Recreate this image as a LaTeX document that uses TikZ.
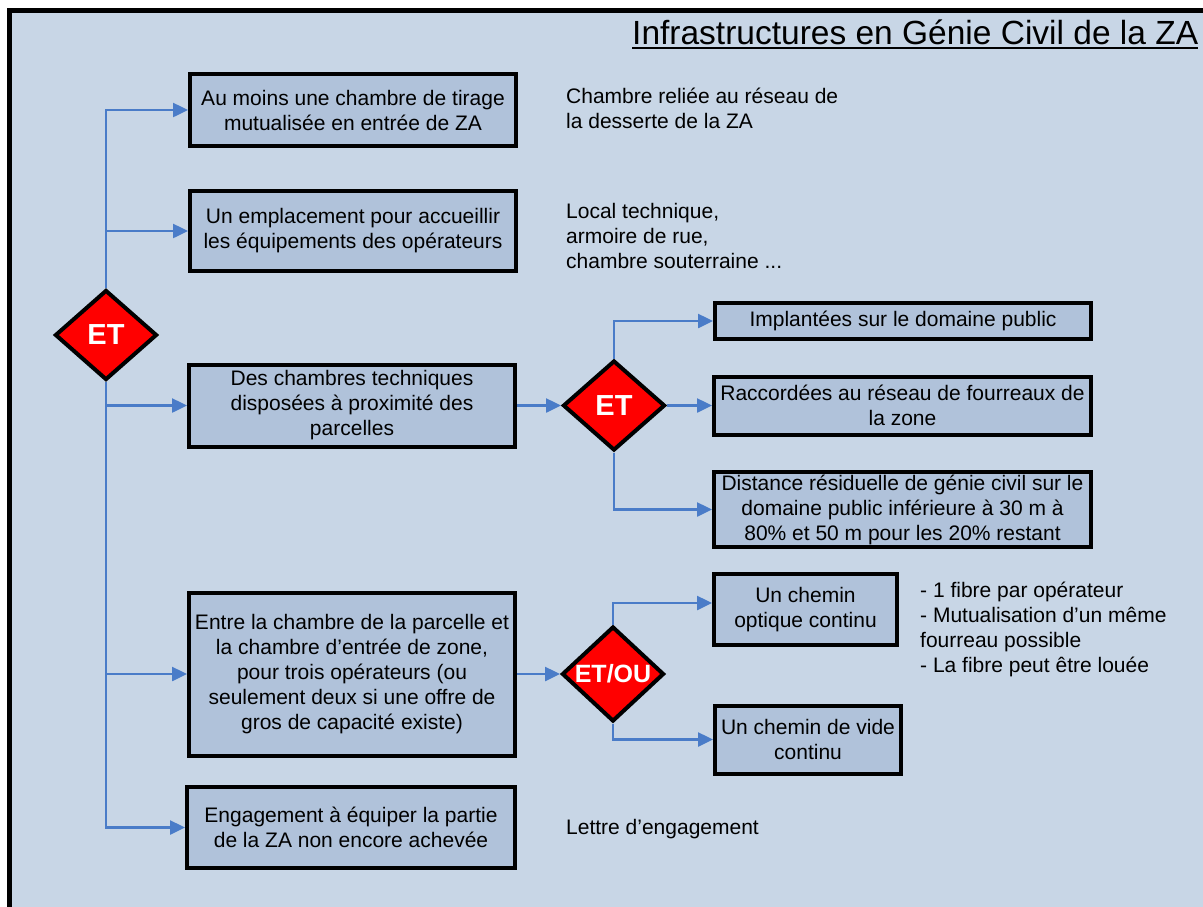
\documentclass[tikz,border=0pt]{standalone}
\usepackage{fontspec}
\setmainfont{Liberation Sans}
\usetikzlibrary{shapes.geometric,arrows.meta}
\definecolor{bgblue}{HTML}{C8D6E6}
\definecolor{boxfill}{HTML}{B0C2DA}
\definecolor{linkblue}{HTML}{4A7CC8}
\begin{document}
\begin{tikzpicture}[x=1pt,y=-1pt,
  bodyfont/.style={font=\fontsize{21}{25}\selectfont},
  stepbox/.style={draw=black,line width=4pt,fill=boxfill,align=center,inner sep=1pt,bodyfont},
  gate/.style={shape=diamond,draw=black,line width=4pt,fill=red,text=white,inner sep=0pt,minimum width=102pt,minimum height=90pt,font=\bfseries\fontsize{29}{29}\selectfont},
  note/.style={align=left,anchor=north west,inner sep=0pt,bodyfont},
  link/.style={draw=linkblue,line width=2.5pt,-{Triangle[length=15pt,width=14pt]}}
]
\useasboundingbox (0,0) rectangle (1203,906);
\fill[white] (0,0) rectangle (1203,906);
\filldraw[fill=bgblue,draw=black,line width=4.5pt] (9.5,10.5) rectangle (1220,925);

% title
\node[anchor=base west,inner sep=0pt,font=\fontsize{33.5}{33.5}\selectfont] (title) at (632,44) {Infrastructures en Génie Civil de la ZA};
\draw[line width=2.5pt] ([yshift=-4pt]title.base west) -- ([yshift=-4pt]title.base east);

% left column boxes
\node[stepbox,minimum width=326pt,minimum height=72pt] (b1) at (353,110) {Au moins une chambre de tirage\\mutualisée en entrée de ZA};
\node[stepbox,minimum width=326pt,minimum height=80pt] (b2) at (353,231) {Un emplacement pour accueillir\\les équipements des opérateurs};
\node[stepbox,minimum width=326pt,minimum height=82pt] (b3) at (352,405.5) {Des chambres techniques\\disposées à proximité des\\parcelles};
\node[stepbox,minimum width=326pt,minimum height=163pt] (b4) at (352,674) {Entre la chambre de la parcelle et\\la chambre d’entrée de zone,\\pour trois opérateurs (ou\\seulement deux si une offre de\\gros de capacité existe)};
\node[stepbox,minimum width=328pt,minimum height=81pt] (b5) at (351,827.5) {Engagement à équiper la partie\\de la ZA non encore achevée};

% right boxes
\node[stepbox,minimum width=376pt,minimum height=36pt] (r1) at (903,321) {Implantées sur le domaine public};
\node[stepbox,minimum width=377pt,minimum height=58pt] (r2) at (902.5,405.5) {Raccordées au réseau de fourreaux de\\la zone};
\node[stepbox,minimum width=377pt,minimum height=75pt] (r3) at (902.5,509.5) {Distance résiduelle de génie civil sur le\\domaine public inférieure à 30 m à\\80\% et 50 m pour les 20\% restant};
\node[stepbox,minimum width=183pt,minimum height=71pt] (r4) at (805.5,609.5) {Un chemin\\optique continu};
\node[stepbox,minimum width=186pt,minimum height=68pt] (r5) at (808,739.5) {Un chemin de vide\\continu};

% gates
\node[gate] (d1) at (106,335) {ET};
\node[gate] (d2) at (614,405.5) {ET};
\node[gate,font=\bfseries\fontsize{25}{25}\selectfont] (d3) at (613,674) {ET/OU};

% connectors
\draw[link] (d1.north) |- (b1.west);
\draw[link] (d1.north) |- (b2.west);
\draw[link] (d1.south) |- (b3.west);
\draw[link] (d1.south) |- (b4.west);
\draw[link] (d1.south) |- (b5.west);
\draw[link] (b3.east) -- (d2.west);
\draw[link] (d2.north) |- (r1.west);
\draw[link] (d2.east) -- (r2.west);
\draw[link] (d2.south) |- (r3.west);
\draw[link] (b4.east) -- (d3.west);
\draw[link] (d3.north) |- ([yshift=6.5pt]r4.west);
\draw[link] (d3.south) |- (r5.west);

% notes
\node[note] (n1) at (566,88) {Chambre reliée au réseau de\\la desserte de la ZA};
\node[note] (n2) at (566,203) {Local technique,\\armoire de rue,\\chambre souterraine ...};
\node[note] (n3) at (920,581.5) {- 1 fibre par opérateur\\- Mutualisation d’un même\\fourreau possible\\- La fibre peut être louée};
\node[note] (n4) at (566,819.5) {Lettre d’engagement};
\end{tikzpicture}
\end{document}
